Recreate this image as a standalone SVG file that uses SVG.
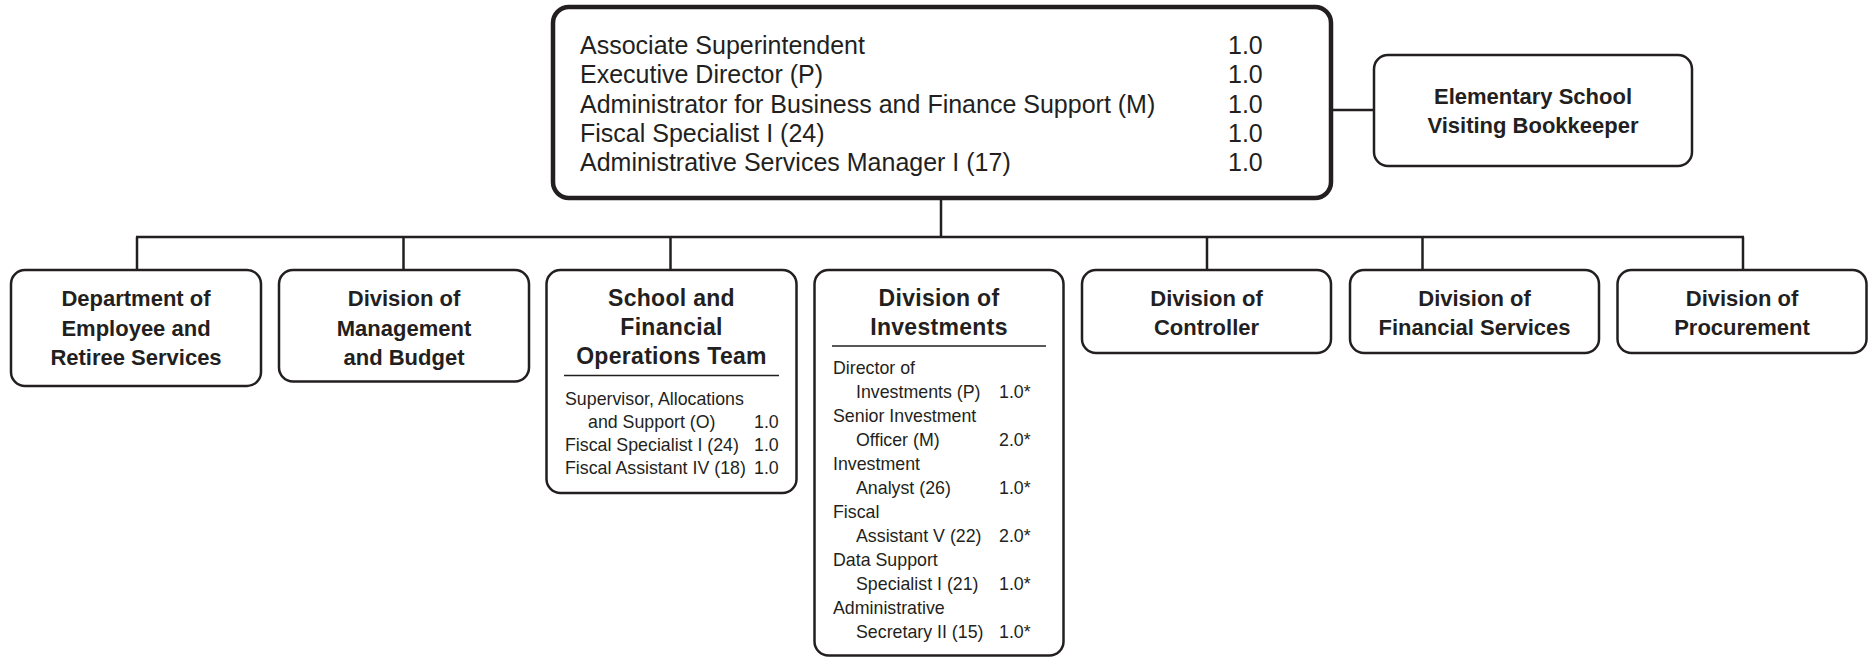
<svg xmlns="http://www.w3.org/2000/svg" width="1875" height="658" viewBox="0 0 1875 658">
  <style>
    .box { fill: #ffffff; stroke: #231f20; stroke-width: 2.5; }
    .boxtop { fill: #ffffff; stroke: #231f20; stroke-width: 4.5; }
    .line { fill: none; stroke: #231f20; stroke-width: 2.5; }
    .rule { fill: none; stroke: #231f20; stroke-width: 1.5; }
    .t { font-family: "Liberation Sans", Arial, sans-serif; fill: #231f20; }
    .title { font-weight: bold; font-size: 22px; text-anchor: middle; }
    .title2 { font-weight: bold; font-size: 23px; text-anchor: middle; letter-spacing: 0.3px; }
    .main { font-size: 25px; }
    .item { font-size: 17.8px; }
  </style>

  <!-- connectors -->
  <g id="connectors">
    <line class="line" x1="1333" y1="110" x2="1374" y2="110"/>
    <line class="line" x1="941" y1="200" x2="941" y2="237"/>
    <line class="line" x1="136" y1="237" x2="1744" y2="237"/>
    <line class="line" x1="137" y1="237" x2="137" y2="270"/>
    <line class="line" x1="403.5" y1="237" x2="403.5" y2="270"/>
    <line class="line" x1="670.5" y1="237" x2="670.5" y2="270"/>
    <line class="line" x1="1207" y1="237" x2="1207" y2="270"/>
    <line class="line" x1="1422.5" y1="237" x2="1422.5" y2="270"/>
    <line class="line" x1="1743" y1="237" x2="1743" y2="270"/>
  </g>

  <!-- head office -->
  <g id="head-office">
    <rect class="boxtop" x="553" y="7" width="778" height="191" rx="16"/>
    <g class="t main">
      <text x="580" y="54">Associate Superintendent</text>
      <text x="580" y="83.3">Executive Director (P)</text>
      <text x="580" y="112.6">Administrator for Business and Finance Support (M)</text>
      <text x="580" y="141.9">Fiscal Specialist I (24)</text>
      <text x="580" y="171.2">Administrative Services Manager I (17)</text>
      <text x="1228" y="54">1.0</text>
      <text x="1228" y="83.3">1.0</text>
      <text x="1228" y="112.6">1.0</text>
      <text x="1228" y="141.9">1.0</text>
      <text x="1228" y="171.2">1.0</text>
    </g>
  </g>

  <g id="bookkeeper">
    <rect class="box" x="1374" y="55" width="318" height="111" rx="14"/>
    <text class="t title" x="1533" y="104">Elementary School</text>
    <text class="t title" x="1533" y="133">Visiting Bookkeeper</text>
  </g>

  <g id="employee-retiree">
    <rect class="box" x="11" y="270" width="250" height="116" rx="14"/>
    <text class="t title" x="136" y="306">Department of</text>
    <text class="t title" x="136" y="335.5">Employee and</text>
    <text class="t title" x="136" y="365">Retiree Services</text>
  </g>

  <g id="management-budget">
    <rect class="box" x="279" y="270" width="250" height="111.5" rx="14"/>
    <text class="t title" x="404" y="306">Division of</text>
    <text class="t title" x="404" y="335.5">Management</text>
    <text class="t title" x="404" y="365">and Budget</text>
  </g>

  <g id="school-financial-ops">
    <rect class="box" x="546.5" y="270" width="250" height="223" rx="14"/>
    <text class="t title2" x="671.5" y="306">School and</text>
    <text class="t title2" x="671.5" y="335">Financial</text>
    <text class="t title2" x="671.5" y="364">Operations Team</text>
    <line class="rule" x1="564" y1="375.5" x2="779" y2="375.5"/>
    <g class="t item">
      <text x="565" y="405">Supervisor, Allocations</text>
      <text x="588" y="428">and Support (O)</text>
      <text x="565" y="451">Fiscal Specialist I (24)</text>
      <text x="565" y="474">Fiscal Assistant IV (18)</text>
      <text x="754" y="428">1.0</text>
      <text x="754" y="451">1.0</text>
      <text x="754" y="474">1.0</text>
    </g>
  </g>

  <g id="investments">
    <rect class="box" x="814.5" y="270" width="249" height="385.5" rx="14"/>
    <text class="t title2" x="939" y="306">Division of</text>
    <text class="t title2" x="939" y="335">Investments</text>
    <line class="rule" x1="832" y1="346" x2="1046" y2="346"/>
    <g class="t item">
      <text x="833" y="374">Director of</text>
      <text x="856" y="398">Investments (P)</text>
      <text x="833" y="422">Senior Investment</text>
      <text x="856" y="446">Officer (M)</text>
      <text x="833" y="470">Investment</text>
      <text x="856" y="494">Analyst (26)</text>
      <text x="833" y="518">Fiscal</text>
      <text x="856" y="542">Assistant V (22)</text>
      <text x="833" y="566">Data Support</text>
      <text x="856" y="590">Specialist I (21)</text>
      <text x="833" y="614">Administrative</text>
      <text x="856" y="638">Secretary II (15)</text>
      <text x="999" y="398">1.0*</text>
      <text x="999" y="446">2.0*</text>
      <text x="999" y="494">1.0*</text>
      <text x="999" y="542">2.0*</text>
      <text x="999" y="590">1.0*</text>
      <text x="999" y="638">1.0*</text>
    </g>
  </g>

  <g id="controller">
    <rect class="box" x="1082" y="270" width="249" height="83" rx="14"/>
    <text class="t title" x="1206.5" y="306">Division of</text>
    <text class="t title" x="1206.5" y="335">Controller</text>
  </g>

  <g id="financial-services">
    <rect class="box" x="1350" y="270" width="249" height="83" rx="14"/>
    <text class="t title" x="1474.5" y="306">Division of</text>
    <text class="t title" x="1474.5" y="335">Financial Services</text>
  </g>

  <g id="procurement">
    <rect class="box" x="1617.5" y="270" width="249" height="83" rx="14"/>
    <text class="t title" x="1742" y="306">Division of</text>
    <text class="t title" x="1742" y="335">Procurement</text>
  </g>
</svg>
